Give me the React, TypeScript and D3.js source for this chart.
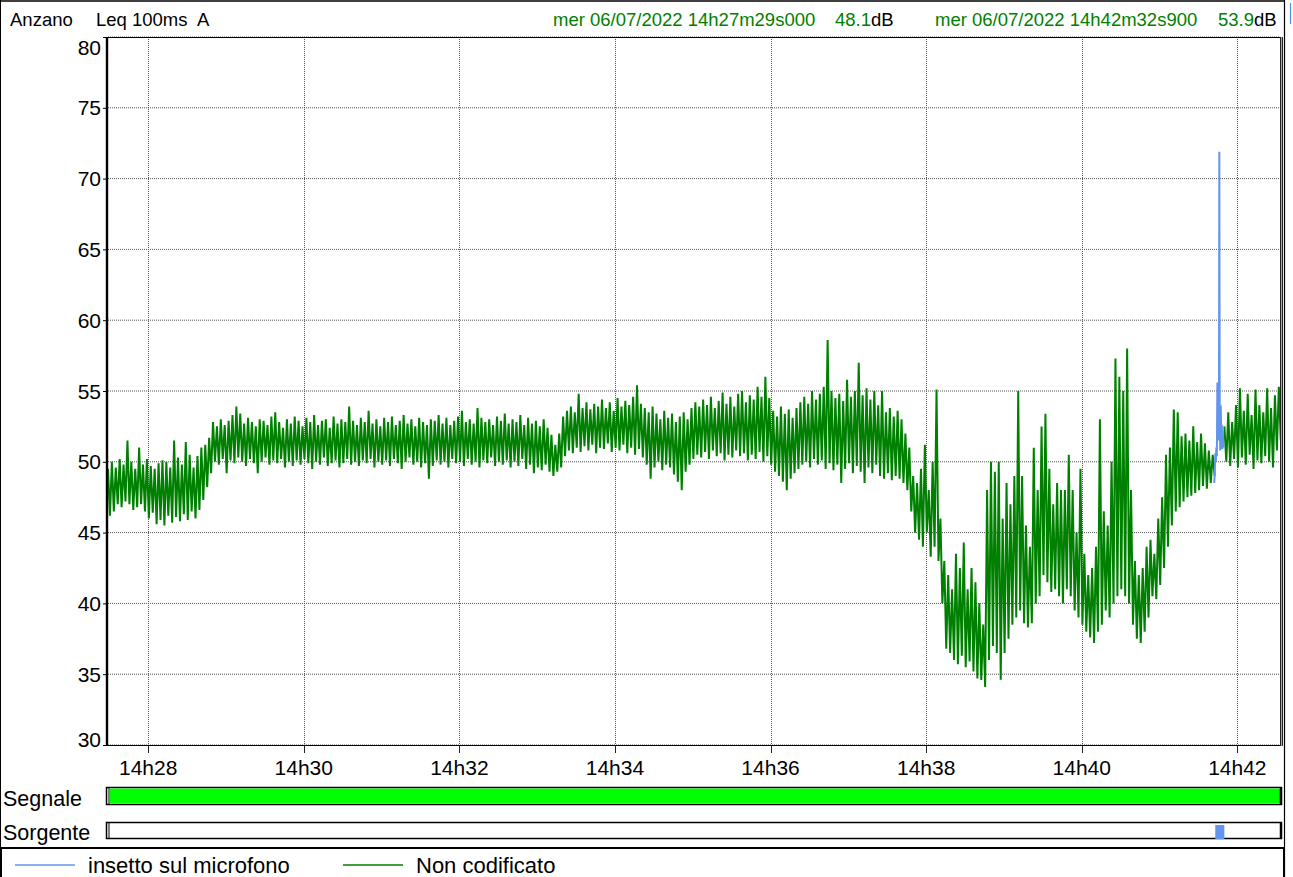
import React from "react";
import * as d3 from "d3";

// ---- Data ----
// Time in seconds from 14h27m29s000; Non codificato as high/low extremes every 3 s
const startLabel = "mer 06/07/2022 14h27m29s000";
const startValue = "48.1";
const endLabel = "mer 06/07/2022 14h42m32s900";
const endValue = "53.9";
const totalSeconds = 903.9;
const sampleStep = 3;

const greenHi: (number | null)[] = [
  49.5, 50, 49.6, 50.2, 49.8, 51.5, 50, 49.5, 51, 49.8,
  50.2, 49.7, 49.5, 49.9, 50.1, 50, 49.6, 51.5, 50.3, 49.8,
  51.4, 50.5, 49.6, 50.4, 51, 51.2, 51.7, 52.8, 52.5, 53,
  52.6, 52.9, 53.3, 53.9, 53.4, 52.7, 53.1, 52.8, 52.5, 53,
  52.9, 52.6, 53.2, 53.5, 52.8, 52.4, 53, 52.7, 53.2, 52.9,
  52.5, 53.1, 52.8, 53.3, 52.6, 52.9, 53, 52.4, 53.2, 52.7,
  53, 52.8, 53.9, 52.9, 52.6, 53.1, 52.8, 53.6, 52.7, 53,
  52.5, 53.1, 52.8, 53.2, 52.6, 52.9, 53.3, 52.7, 53, 52.5,
  53.1, 52.8, 52.6, 53, 52.9, 53.3, 52.7, 53.1, 52.6, 52.9,
  53.2, 53.6, 52.8, 53, 52.7, 53.8, 53.1, 52.8, 53, 52.6,
  53.2, 52.9, 53.4, 52.7, 53, 52.8, 53.3, 52.6, 53.1, 52.7,
  52.9, 52.5, 53, 52.4, 51.9, 51.2, 52, 53.2, 53.6, 53.9,
  53.5, 54.8, 53.8, 54.2, 53.7, 54.1, 53.9, 54.4, 53.8, 54.2,
  53.6, 54.5, 53.9, 54.3, 54, 54.6, 55.4, 54.1, 53.8, 53.5,
  53.9, 53.4, 53, 53.6, 53.1, 53.4, 52.8, 53.2, 53.5, 53,
  53.8, 54.2, 53.9, 54.4, 54, 54.6, 53.8, 54.3, 54.9, 54.1,
  54.6, 53.9, 54.8, 55, 54.2, 54.7, 54.4, 55.3, 54.6, 56,
  54.5, 53.6, 53.2, 53.9, 53.4, 53.7, 53.1, 53.8, 54.2, 54.6,
  54.1, 55, 54.4, 54.8, 55.3, 58.6, 55, 54.5, 54.8, 54.3,
  55.8, 54.6, 55, 57, 54.7, 55.2, 54.4, 55, 54, 55,
  53.5, 53.8, 53.2, 53.6, 53, 52, 51, 49, 48.5, 49.5,
  51.2, 48, 50, 55.1, 46, 43, 42, 41, 43.5, 42.5,
  44.3, 41, 42.5, 41.5, 40, 38.5, 48, 50, 49.3, 50,
  46, 48.5, 47, 49, 55, 49, 45.5, 44, 51, 48,
  52.5, 53.4, 49.5, 47, 48.5, 48, 48, 50.5, 48, 45,
  49.5, 43.5, 42, 42.5, 44, 53, 46.5, 45.5, 50, 57.3,
  56, 55, 58, 48, 43, 42, 42.5, 44, 44.5, 43.5,
  46, 47.5, 50.5, 51, 53.7, 53.5, 51.8, 52, 51.5, 52.5,
  51.4, 52, 51.3, 50.8, 50.5, null, null, 52.5, 53.5, 52.8,
  54, 55.2, 53.6, 54.8, 53.3, 55.1, 54, 53.5, 55.2, 53.8,
  54.7, 55.3,
];

const greenLo: (number | null)[] = [
  46.2, 46.5, 47, 46.8, 47.2, 47, 46.6, 46.8, 47, 46.5,
  46, 46.4, 45.6, 45.9, 45.5, 46.2, 45.7, 46.1, 45.8, 46.3,
  45.9, 46.5, 46, 46.6, 47.3, 48.2, 49.2, 50, 49.8, 50.2,
  49.2, 50.1, 49.9, 50.3, 50, 49.7, 50.2, 49.9, 49.2, 50,
  50.3, 49.8, 50.1, 49.9, 50.2, 49.6, 50, 49.7, 50.1, 49.8,
  50.2, 49.9, 49.5, 50, 49.8, 50.3, 49.7, 49.9, 50.1, 49.6,
  49.9, 50.2, 49.8, 50, 49.7, 50.1, 49.9, 50.2, 49.6, 50,
  49.8, 50.1, 49.7, 50.2, 49.9, 49.5, 50, 50.3, 49.8, 50,
  49.6, 49.9, 48.8, 49.7, 50.1, 49.8, 50, 49.6, 50.2, 49.9,
  50, 49.7, 50.2, 49.8, 50, 49.6, 50.1, 49.9, 50.3, 49.7,
  50, 49.8, 50.1, 49.6, 50, 49.7, 50.2, 49.5, 49.8, 49.2,
  49.6, 49.4, 49.8, 49.3, 49, 49.3, 49.6, 50.4, 50.8, 50.6,
  51, 50.7, 51.1, 50.8, 51.2, 50.6, 51, 50.9, 51.3, 50.7,
  51, 50.8, 51.2, 50.6, 51, 50.5, 50.9, 50.3, 49.8, 48.8,
  49.6, 50, 49.4, 49.8, 49.6, 49.1, 48.6, 48, 49.3, 49.8,
  50.2, 50.5, 50.3, 50.7, 50.2, 50.8, 50.4, 50.6, 50.1, 50.5,
  50.3, 50.8, 50.4, 50.6, 50.1, 50.5, 50.2, 50.7, 50, 50.4,
  49.8, 49.3, 49, 48.6, 48, 48.8, 49.2, 49.5, 49.8, 50,
  49.6, 50.2, 49.8, 50.1, 49.5, 49.9, 49.4, 49.8, 48.5, 49.5,
  49.9, 49.2, 49.7, 49.3, 48.5, 49.6, 49.2, 49.8, 49, 48.8,
  49.2, 48.7, 49, 48.8, 48.5, 48, 46.5, 45, 44.5, 44,
  45, 43.3, 44, 43, 40, 36.8, 36.5, 36, 35.7, 36.3,
  35.5, 35.9, 35.2, 34.7, 34.6, 34.1, 36, 37, 36.5, 34.6,
  36.5, 37.5, 38.5, 39, 39.5, 38.6, 38.3, 38.6, 40, 40.5,
  42, 41.5, 40.8, 41, 40.5, 40, 41, 40.5, 39.5, 39,
  38.5, 38, 37.6, 37.2, 38, 38.5, 39.5, 39, 40, 40.5,
  41, 40.5, 40, 38.5, 37.5, 37.2, 38, 39, 40.5, 40.3,
  41.3, 42.5, 44, 45.5, 46.5, 46.8, 47.2, 47.5, 47.6, 47.8,
  48, 48.3, 48.1, 48.5, 49, null, null, 50, 49.7, 50.2,
  49.6, 50.3, 49.8, 50.5, 49.5, 50.1, 49.9, 50.4, 50, 49.6,
  50.8, 51.5,
];

// "insetto sul microfono" event
const blueTimes = [853.2, 853.6, 854.0, 854.4, 854.8, 855.2, 855.6, 856.0, 856.4, 856.8, 857.1, 857.4, 857.8, 858.2, 858.6, 859.0, 859.4, 859.8, 860.2];
const blueValues = [48.5, 49.2, 50.6, 50.0, 51.0, 50.4, 55.6, 52.0, 54.5, 51.5, 71.9, 53.5, 50.8, 54.0, 51.3, 52.6, 50.9, 52.2, 51.0];

const yTicks = [30, 35, 40, 45, 50, 55, 60, 65, 70, 75, 80];
const xTickSeconds = [31, 151, 271, 391, 511, 631, 751, 871];
const xTickLabels = ["14h28", "14h30", "14h32", "14h34", "14h36", "14h38", "14h40", "14h42"];

const legendItems = [
  { label: "insetto sul microfono", color: "#6495ED" },
  { label: "Non codificato", color: "#008000" },
];

const FONT = "'Liberation Sans', Arial, Helvetica, sans-serif";

export default function App() {
  const W = 1293, H = 877;
  const left = 108, right = 1280, top = 37, bottom = 745;
  const x = d3.scaleLinear().domain([0, totalSeconds]).range([left, right]);
  const y = d3.scaleLinear().domain([30, 80]).range([bottom, top]);

  type P = { t: number; v: number | null };
  const greenPts: P[] = [];
  greenHi.forEach((h, i) => {
    greenPts.push({ t: i * sampleStep, v: h });
    greenPts.push({ t: i * sampleStep + sampleStep / 2, v: greenLo[i] });
  });
  const line = d3
    .line<P>()
    .defined((d) => d.v !== null)
    .x((d) => x(d.t))
    .y((d) => y(d.v as number));
  const greenPath = line(greenPts) || "";
  const bluePts: P[] = blueTimes.map((t, i) => ({ t, v: blueValues[i] }));
  const bluePath = line(bluePts) || "";

  const blueStartX = x(blueTimes[0]);
  const blueEndX = x(blueTimes[blueTimes.length - 1]);

  return (
    <svg
      width={W}
      height={H}
      style={{ position: "absolute", left: 0, top: 0, background: "#fff" }}
      fontFamily={FONT}
    >
      <rect x={0} y={0} width={W} height={H} fill="#fff" />
      {/* outer frame */}
      <line x1={0} y1={1} x2={1285} y2={1} stroke="#000" strokeWidth={1.5} />
      <line x1={0.5} y1={0} x2={0.5} y2={848} stroke="#000" strokeWidth={1} />
      <line x1={1284.5} y1={0} x2={1284.5} y2={H} stroke="#000" strokeWidth={1.2} />
      <line x1={1290.5} y1={3} x2={1290.5} y2={24} stroke="#4a8fe0" strokeWidth={1.2} />

      {/* header */}
      <text x={10} y={26} fontSize={18.5} fill="#000">Anzano</text>
      <text x={96} y={26} fontSize={18.5} fill="#000">Leq 100ms</text>
      <text x={197} y={26} fontSize={18.5} fill="#000">A</text>
      <text x={553} y={26} fontSize={18.5} fill="#008000">{startLabel}</text>
      <text x={835} y={26} fontSize={18.5} fill="#008000">
        {startValue}
        <tspan fill="#000">dB</tspan>
      </text>
      <text x={935} y={26} fontSize={18.5} fill="#008000">{endLabel}</text>
      <text x={1218} y={26} fontSize={18.5} fill="#008000">
        {endValue}
        <tspan fill="#000">dB</tspan>
      </text>

      {/* grid */}
      {yTicks.map((v) => (
        <line key={"gy" + v} x1={left} x2={right} y1={y(v)} y2={y(v)} stroke="#555" strokeWidth={1} strokeDasharray="1,1" />
      ))}
      {xTickSeconds.map((s) => (
        <line key={"gx" + s} x1={Math.round(x(s)) + 0.5} x2={Math.round(x(s)) + 0.5} y1={top} y2={bottom} stroke="#555" strokeWidth={1} strokeDasharray="1,1" />
      ))}

      {/* data */}
      <path d={greenPath} fill="none" stroke="#008000" strokeWidth={2} strokeLinejoin="miter" />
      <path d={bluePath} fill="none" stroke="#6495ED" strokeWidth={2} />

      {/* plot border */}
      <line x1={106} x2={1282} y1={top + 0.5} y2={top + 0.5} stroke="#000" strokeWidth={1} />
      <line x1={103} x2={1282} y1={bottom + 0.5} y2={bottom + 0.5} stroke="#000" strokeWidth={1} />
      <line x1={107} x2={107} y1={top} y2={bottom + 1} stroke="#000" strokeWidth={2.4} />
      <line x1={1280.5} x2={1280.5} y1={top} y2={bottom + 1} stroke="#222" strokeWidth={1} />
      <line x1={1281.5} x2={1281.5} y1={top} y2={bottom + 1} stroke="#aaa" strokeWidth={1} />
      <line x1={1282.5} x2={1282.5} y1={top} y2={bottom + 1} stroke="#222" strokeWidth={1} />

      {/* y axis */}
      {yTicks.map((v) => (
        <g key={"yt" + v}>
          <line x1={103} x2={107} y1={y(v) + 0.5} y2={y(v) + 0.5} stroke="#000" strokeWidth={1} />
          <text
            x={101}
            y={Math.min(747, Math.max(55, y(v) + 7.5))}
            fontSize={21}
            textAnchor="end"
            fill="#000"
          >
            {v}
          </text>
        </g>
      ))}

      {/* x axis */}
      {xTickSeconds.map((s, i) => (
        <g key={"xt" + s}>
          <line x1={Math.round(x(s)) + 0.5} x2={Math.round(x(s)) + 0.5} y1={bottom + 1} y2={bottom + 8} stroke="#222" strokeWidth={1} />
          <text x={x(s)} y={774.5} fontSize={21} textAnchor="middle" fill="#000">
            {xTickLabels[i]}
          </text>
        </g>
      ))}

      {/* Segnale bar */}
      <text x={3} y={806} fontSize={21.5} fill="#000">Segnale</text>
      <rect x={106.5} y={787.5} width={1175} height={17} fill="#fff" stroke="#000" strokeWidth={1.5} />
      <rect x={x(0) + 2} y={788.5} width={x(totalSeconds) - x(0) - 2} height={15} fill="#00FF00" />
      <line x1={109} x2={109} y1={788} y2={804} stroke="#000" strokeWidth={1} />
      <line x1={1280.5} x2={1280.5} y1={788} y2={804} stroke="#000" strokeWidth={1.5} />

      {/* Sorgente bar */}
      <text x={3} y={839.5} fontSize={21.5} fill="#000">Sorgente</text>
      <rect x={106.5} y={822.5} width={1175} height={16} fill="#fff" stroke="#000" strokeWidth={1.5} />
      <line x1={109} x2={109} y1={823} y2={838} stroke="#000" strokeWidth={1} />
      <line x1={1280.5} x2={1280.5} y1={823} y2={838} stroke="#000" strokeWidth={1.5} />
      <rect x={blueStartX + 1} y={825} width={blueEndX - blueStartX} height={14} fill="#6495ED" />

      {/* legend */}
      <rect x={1} y={848} width={1283} height={40} fill="none" stroke="#000" strokeWidth={2} />
      {legendItems.map((it, i) => {
        const lx = i === 0 ? 15 : 343;
        return (
          <g key={it.label}>
            <line x1={lx} x2={lx + 60} y1={865} y2={865} stroke={it.color} strokeWidth={1.5} />
            <text x={lx + 73} y={873} fontSize={22} fill="#000">{it.label}</text>
          </g>
        );
      })}
    </svg>
  );
}
